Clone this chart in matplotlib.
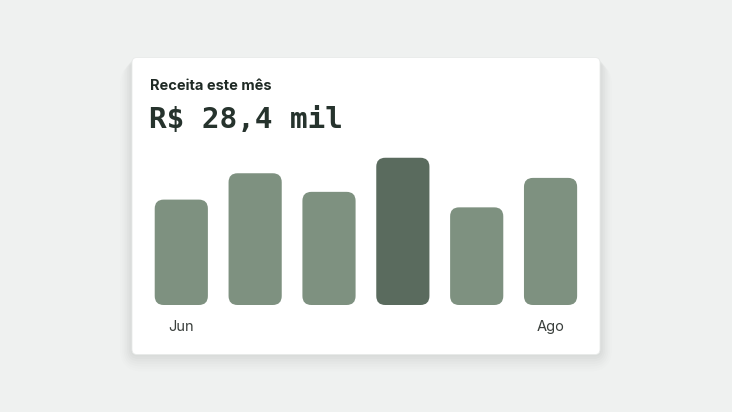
import matplotlib.pyplot as plt
from matplotlib.patches import FancyBboxPatch

# Revenue card data
months = ['Jun', '', '', '', '', 'Ago']
values = [68, 85, 73, 95, 63, 82]
highlight = 3
title = 'Receita este mês'
total = 'R$ 28,4 mil'

W, H = 732, 412
fig = plt.figure(figsize=(W / 100, H / 100), dpi=100)
fig.patch.set_facecolor('#eff1f0')

# background axes in pixel coordinates for the card
bg = fig.add_axes([0, 0, 1, 1])
bg.set_xlim(0, W)
bg.set_ylim(H, 0)
bg.axis('off')

cx0, cy0, cx1, cy1 = 132, 57.5, 600, 354.5
for i, a in enumerate([0.016, 0.016, 0.014, 0.012, 0.01, 0.008, 0.006]):
    d = 2 + i * 2.5
    bg.add_patch(FancyBboxPatch((cx0 - d * 0.7, cy0 + d * 0.3), cx1 - cx0 + d * 1.4,
                                cy1 - cy0 + d * 0.7,
                                boxstyle='round,pad=0,rounding_size=%g' % (5 + d),
                                fc='#1c2a22', ec='none', alpha=a))
bg.add_patch(FancyBboxPatch((cx0, cy0), cx1 - cx0, cy1 - cy0,
                            boxstyle='round,pad=0,rounding_size=5',
                            fc='white', ec='#e8eae9', lw=0.6))

bg.text(150, 90, title, fontsize=10.5, fontweight='bold', family=['Inter', 'DejaVu Sans'],
        color='#1f2a25', va='baseline', ha='left')
bg.text(149, 128.5, total, fontsize=21.2, fontweight='bold', family='DejaVu Sans Mono',
        color='#26332d', va='baseline', ha='left')

# bar axes
pitch = 73.85
left_px = 181.3 - pitch / 2
ax = fig.add_axes([left_px / W, (H - 305) / H, 6 * pitch / W, 155 / H])
ax.set_xlim(-0.5, 5.5)
ax.set_ylim(0, 100)
ax.axis('off')

bars = ax.bar(range(len(values)), values, width=0.72)
fig.canvas.draw()
inv = ax.transData.inverted()
p0 = inv.transform((0, 0))
p1 = inv.transform((1, 1))
x_per_px = p1[0] - p0[0]
y_per_px = p1[1] - p0[1]
aspect = y_per_px / x_per_px
radius = 9 * x_per_px
label_y = -(331.5 - 305) * y_per_px
for i, b in enumerate(bars):
    x, y, w, h = b.get_x(), b.get_y(), b.get_width(), b.get_height()
    b.remove()
    color = '#5a6b5e' if i == highlight else '#7e9180'
    ax.add_patch(FancyBboxPatch((x, y), w, h,
                                boxstyle='round,pad=0,rounding_size=%g' % radius,
                                mutation_aspect=aspect, fc=color, ec='none'))
    if months[i]:
        ax.text(i, label_y, months[i], fontsize=10.5, family=['Inter', 'DejaVu Sans'],
                color='#3a3f3c', ha='center', va='baseline')

fig.savefig('out.png', dpi=100, facecolor=fig.get_facecolor())
